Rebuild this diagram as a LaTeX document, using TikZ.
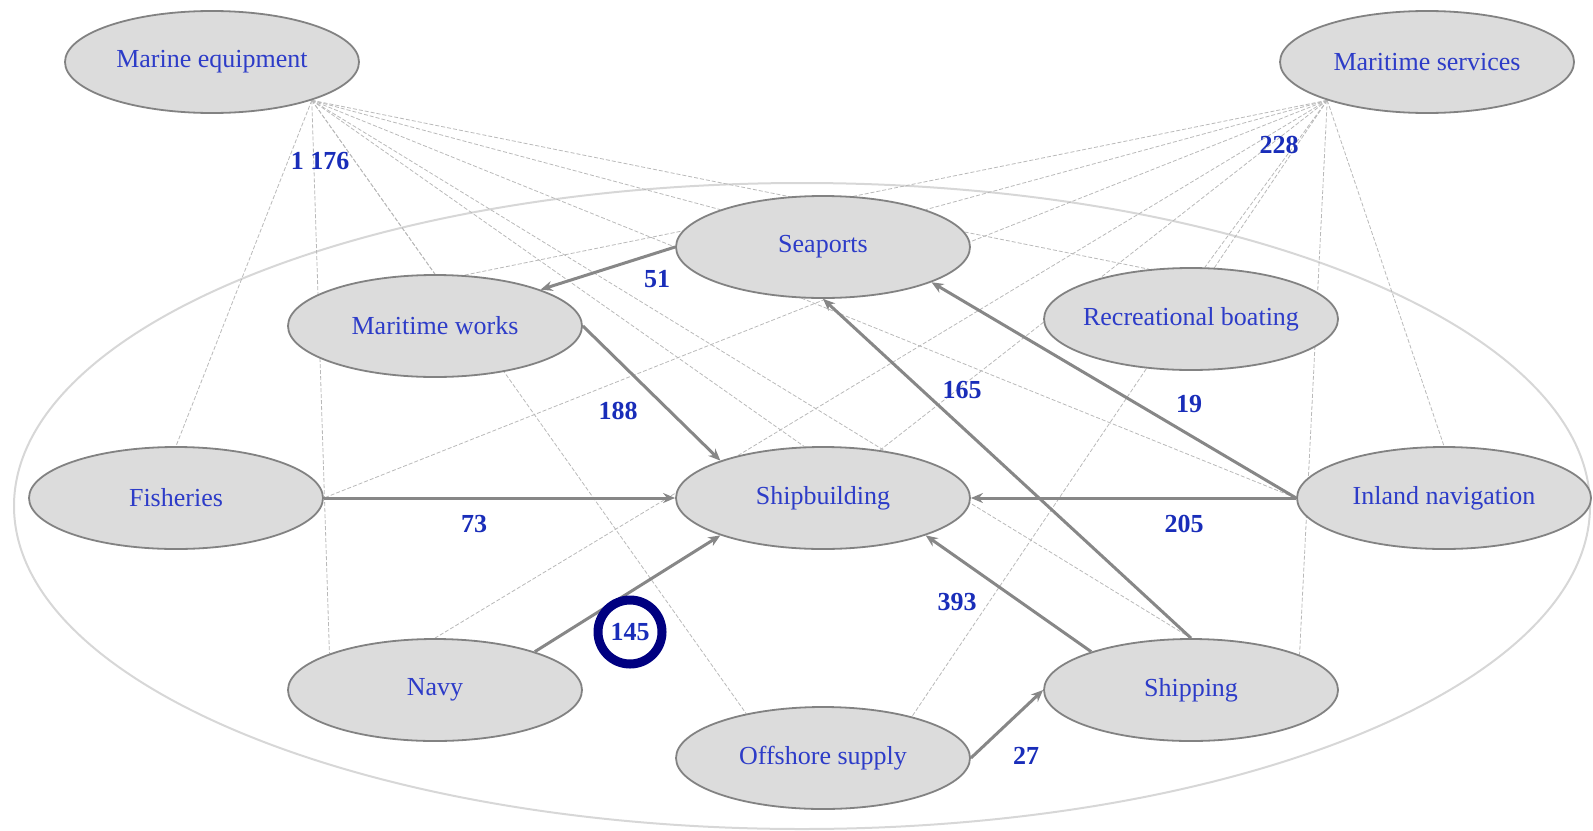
\documentclass[tikz,border=0pt]{standalone}
\usepackage{fontspec}
\setmainfont{Liberation Serif}
\usetikzlibrary{shapes.geometric,arrows.meta,backgrounds}
\definecolor{nodeblue}{RGB}{45,60,200}
\definecolor{numblue}{RGB}{25,45,185}
\definecolor{ringblue}{RGB}{0,0,128}
\definecolor{bubble}{RGB}{220,220,220}
\definecolor{rim}{RGB}{130,130,130}
\definecolor{flow}{RGB}{135,135,135}
\definecolor{faint}{RGB}{185,185,185}
\definecolor{hoop}{RGB}{215,215,215}
\begin{document}
\begin{tikzpicture}[x=0.5pt,y=-0.5pt,
    sector/.style={ellipse, draw=rim, line width=0.9pt, fill=bubble,
        minimum width=147pt, minimum height=51pt, inner xsep=-20pt, inner ysep=0pt,
        text=nodeblue, font=\fontsize{13}{15}\selectfont},
    link/.style={draw=faint, line width=0.4pt, dash pattern=on 2pt off 1pt},
    flowarrow/.style={draw=flow, line width=1.5pt, -{Stealth[length=6pt,width=5pt]}},
    amount/.style={text=numblue, font=\fontsize{13}{15}\selectfont\bfseries},
    ring/.style={circle, draw=ringblue, line width=4.5pt, fill=white, minimum size=32pt, inner sep=0pt}]
\useasboundingbox (0,0) rectangle (1593,830);

\node[sector] (mareq) at (212,62) {Marine equipment};
\node[sector] (marserv) at (1427,62) {Maritime services};
\node[sector] (seaports) at (823,247) {Seaports};
\node[sector] (mworks) at (435,326) {Maritime works};
\node[sector] (recboat) at (1191,319) {Recreational boating};
\node[sector] (fisheries) at (176,498) {Fisheries};
\node[sector] (shipb) at (823,498) {Shipbuilding};
\node[sector] (inland) at (1444,498) {Inland navigation};
\node[sector] (navy) at (435,690) {Navy};
\node[sector] (shipping) at (1191,690) {Shipping};
\node[sector] (offshore) at (823,758) {Offshore supply};

\begin{scope}[on background layer]
\draw[hoop, line width=1pt] (802,506) ellipse [x radius=394pt, y radius=161.5pt];
\draw[link] (mareq.-21) -- (fisheries.north);
\draw[link] (mareq.-21) -- (navy.161);
\draw[link] (mareq.-21) -- (mworks.north);
\draw[link] (mareq.-21) -- (seaports.160);
\draw[link] (mareq.-21) -- (shipb.110);
\draw[link] (mareq.-21) -- (recboat.130);
\draw[link] (mareq.-21) -- (inland.180);
\draw[link] (mareq.-21) -- (shipping.north);
\draw[link] (mareq.-21) -- (offshore.150);
\draw[link] (marserv.201) -- (fisheries.0);
\draw[link] (marserv.201) -- (navy.north);
\draw[link] (marserv.201) -- (mworks.60);
\draw[link] (marserv.201) -- (seaports.20);
\draw[link] (marserv.201) -- (shipb.40);
\draw[link] (marserv.201) -- (recboat.75);
\draw[link] (marserv.201) -- (inland.north);
\draw[link] (marserv.201) -- (shipping.18);
\draw[link] (marserv.201) -- (offshore.25);
\end{scope}

\draw[flowarrow] (seaports.180) -- (mworks.19);
\draw[flowarrow] (mworks.0) -- (shipb.160);
\draw[flowarrow] (fisheries.0) -- (shipb.180);
\draw[flowarrow] (navy.21) -- (shipb.200);
\draw[flowarrow] (shipping.north) -- (seaports.south);
\draw[flowarrow] (inland.180) -- (seaports.-18);
\draw[flowarrow] (inland.180) -- (shipb.0);
\draw[flowarrow] (shipping.159) -- (shipb.-20);
\draw[flowarrow] (offshore.0) -- (shipping.180);

\node[amount] (l1176) at (320,161) {1 176};
\node[amount] (l228) at (1279,145) {228};
\node[amount] (l51) at (657,279) {51};
\node[amount] (l188) at (618,411) {188};
\node[amount] (l165) at (962,390) {165};
\node[amount] (l19) at (1189,404) {19};
\node[amount] (l73) at (474,524) {73};
\node[amount] (l205) at (1184,524) {205};
\node[amount] (l393) at (957,602) {393};
\node[amount] (l27) at (1026,756) {27};
\node[amount, ring] (l145) at (630,632) {145};
\end{tikzpicture}
\end{document}
